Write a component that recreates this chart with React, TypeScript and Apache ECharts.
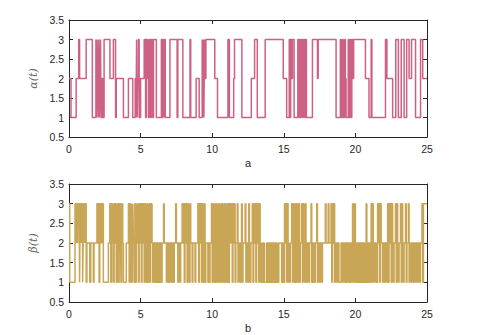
import React, { useEffect, useRef } from "react";
import * as echarts from "echarts";

// Switching signal alpha(t): [time, mode] pairs (mode holds until next time)
const alpha0to5: [number, number][] = [
  [0, 2], [0.14, 1], [0.5, 2], [0.68, 3], [0.74, 2], [1.2, 3], [1.63, 1], [1.88, 3], [1.92, 1], [1.96, 3],
  [2.0, 2], [2.04, 1], [2.08, 3], [2.12, 1], [2.16, 2], [2.2, 3], [2.24, 1], [2.3, 2], [2.36, 1], [2.45, 3],
  [2.86, 2], [3.1, 3], [3.25, 1], [3.3, 2], [3.8, 1], [4.15, 2], [4.45, 1], [4.62, 2], [4.68, 1], [4.72, 3],
  [4.76, 1], [4.8, 2], [4.85, 3], [4.9, 1],
];
const alpha5to10: [number, number][] = [
  [5.0, 2], [5.25, 3], [5.35, 1], [5.4, 3], [5.5, 2], [5.55, 1], [5.6, 3], [5.7, 1], [5.75, 3], [5.85, 1],
  [5.9, 3], [6.1, 1], [6.45, 3], [6.5, 1], [6.55, 3], [6.62, 1], [6.66, 3], [6.72, 1], [7.05, 3], [7.55, 1],
  [7.6, 3], [7.95, 1], [8.45, 3], [8.5, 1], [8.88, 2], [9.09, 1], [9.3, 3], [9.34, 1], [9.38, 3], [9.42, 1],
  [9.46, 3], [9.5, 2], [9.56, 3],
];
const alpha10to15: [number, number][] = [
  [10.18, 2], [10.37, 1], [11.1, 3], [11.2, 1], [11.5, 2], [11.56, 3], [12.07, 1], [12.73, 2], [12.96, 3],
  [13.15, 1], [13.7, 3], [14.96, 2],
];
const alpha15to20: [number, number][] = [
  [15.2, 1], [15.38, 3], [15.43, 1], [15.48, 3], [15.55, 2], [15.6, 3], [15.72, 1], [15.98, 3], [16.05, 1],
  [16.1, 3], [16.15, 1], [16.2, 3], [16.3, 1], [16.35, 3], [16.45, 1], [16.5, 3], [16.58, 1], [17.0, 3],
  [17.35, 2], [17.4, 3], [18.65, 1], [18.95, 3], [19.02, 1], [19.1, 3], [19.15, 1], [19.25, 3], [19.3, 2],
  [19.35, 1], [19.5, 3], [19.55, 1], [19.62, 3], [19.68, 1], [19.75, 3], [19.82, 2], [19.88, 3],
];
const alpha20to25: [number, number][] = [
  [20.7, 2], [20.95, 1], [21.1, 3], [21.15, 1], [22.1, 3], [22.2, 2], [22.6, 1], [22.82, 3], [23.0, 1],
  [23.2, 3], [23.4, 1], [23.58, 3], [23.75, 2], [23.92, 3], [24.2, 1], [24.55, 3], [24.7, 2], [25, 2],
];

// Switching signal beta(t)
const beta0to5: [number, number][] = [
  [0, 3], [0.05, 1], [0.42, 3], [0.5, 2], [0.53, 3], [0.6, 2], [0.63, 3], [0.72, 2], [0.74, 1], [0.78, 3],
  [0.85, 2], [0.88, 3], [0.95, 1], [0.99, 2], [1.03, 3], [1.1, 2], [1.13, 3], [1.2, 1], [1.25, 2], [1.45, 1],
  [1.52, 2], [1.7, 1], [1.75, 2], [1.95, 3], [2.0, 2], [2.05, 3], [2.1, 1], [2.15, 3], [2.25, 2], [2.3, 3],
  [2.4, 1], [2.75, 2], [2.85, 3], [2.92, 1], [2.98, 3], [3.05, 2], [3.1, 1], [3.15, 3], [3.2, 2], [3.25, 3],
  [3.3, 1], [3.35, 2], [3.4, 3], [3.45, 1], [3.5, 3], [3.6, 2], [3.63, 1], [3.68, 3], [3.75, 2], [3.8, 1],
  [4.0, 2], [4.15, 3], [4.2, 1], [4.25, 3], [4.3, 2], [4.33, 1], [4.38, 3], [4.42, 1], [4.46, 3], [4.5, 2],
  [4.55, 1], [4.6, 3], [4.65, 1], [4.7, 2], [4.75, 3], [4.8, 2], [4.85, 1], [4.9, 3], [4.95, 2],
];
const beta5to10: [number, number][] = [
  [5.0, 3], [5.05, 1], [5.1, 3], [5.15, 2], [5.2, 3], [5.25, 1], [5.3, 3], [5.35, 2], [5.4, 1], [5.45, 3],
  [5.5, 1], [5.55, 2], [5.6, 3], [5.65, 1], [5.7, 3], [5.8, 2], [5.85, 1], [5.9, 2], [5.95, 1], [6.0, 2],
  [6.05, 1], [6.1, 2], [6.15, 1], [6.2, 2], [6.25, 1], [6.3, 2], [6.35, 1], [6.4, 2], [6.45, 1], [6.5, 2],
  [6.6, 3], [6.65, 2], [6.8, 1], [6.85, 2], [6.95, 1], [7.0, 2], [7.05, 1], [7.1, 2], [7.2, 1], [7.25, 2],
  [7.3, 1], [7.35, 2], [7.45, 3], [7.5, 2], [7.6, 1], [7.65, 2], [7.75, 1], [7.8, 2], [7.9, 3], [7.95, 2],
  [8.0, 3], [8.05, 1], [8.1, 3], [8.15, 2], [8.2, 3], [8.25, 1], [8.3, 3], [8.35, 2], [8.4, 1], [8.45, 3],
  [8.5, 2], [8.6, 1], [8.65, 2], [8.8, 1], [8.85, 2], [9.0, 3], [9.05, 1], [9.1, 3], [9.15, 2], [9.2, 3],
  [9.25, 1], [9.3, 3], [9.35, 2], [9.4, 1], [9.45, 3], [9.5, 1], [9.55, 2], [9.7, 1], [9.75, 2], [9.8, 1],
  [9.85, 2], [9.95, 3],
];
const beta10to15: [number, number][] = [
  [10.0, 1], [10.05, 3], [10.1, 2], [10.15, 1], [10.2, 3], [10.25, 1], [10.3, 3], [10.35, 2], [10.4, 1],
  [10.45, 3], [10.5, 1], [10.55, 2], [10.6, 3], [10.65, 1], [10.7, 3], [10.75, 2], [10.8, 1], [10.85, 3],
  [10.9, 1], [10.95, 3], [11.0, 2], [11.05, 1], [11.1, 3], [11.15, 1], [11.2, 3], [11.3, 2], [11.35, 3],
  [11.4, 1], [11.45, 3], [11.5, 2], [11.55, 3], [11.6, 1], [11.65, 2], [11.75, 3], [11.8, 1], [11.85, 2],
  [11.95, 1], [12.0, 2], [12.05, 3], [12.1, 1], [12.15, 2], [12.3, 3], [12.35, 1], [12.4, 2], [12.5, 1],
  [12.55, 3], [12.6, 2], [12.65, 1], [12.7, 2], [12.8, 3], [12.85, 1], [12.9, 3], [12.95, 2], [13.0, 3],
  [13.05, 1], [13.1, 3], [13.15, 2], [13.2, 3], [13.25, 1], [13.3, 3], [13.35, 2], [13.4, 1], [13.5, 2],
  [13.55, 1], [13.6, 2], [13.65, 1], [13.8, 2], [13.85, 1], [13.9, 2], [13.95, 1], [14.0, 2], [14.05, 1],
  [14.1, 2], [14.15, 1], [14.2, 2], [14.25, 1], [14.3, 2], [14.35, 1], [14.4, 2], [14.45, 1], [14.5, 2],
  [14.55, 1], [14.65, 2], [14.85, 1], [14.9, 2], [14.95, 1],
];
const beta15to20: [number, number][] = [
  [15.05, 3], [15.1, 2], [15.15, 3], [15.2, 1], [15.25, 3], [15.3, 2], [15.35, 1], [15.45, 2], [15.55, 3],
  [15.6, 1], [15.65, 3], [15.7, 2], [15.75, 1], [15.8, 3], [15.85, 1], [15.9, 3], [15.95, 2], [16.0, 1],
  [16.05, 3], [16.1, 1], [16.15, 2], [16.25, 3], [16.3, 1], [16.35, 3], [16.4, 2], [16.45, 1], [16.5, 3],
  [16.55, 2], [16.6, 1], [16.65, 2], [16.75, 1], [16.8, 2], [16.9, 3], [16.95, 1], [17.0, 2], [17.05, 1],
  [17.1, 2], [17.15, 1], [17.2, 2], [17.3, 3], [17.35, 1], [17.4, 2], [17.5, 1], [17.55, 2], [17.65, 1],
  [17.7, 2], [17.9, 3], [17.95, 2], [18.1, 3], [18.15, 2], [18.3, 3], [18.35, 1], [18.4, 3], [18.45, 2],
  [18.5, 3], [18.55, 1], [18.6, 2], [18.7, 1], [18.75, 2], [18.85, 1], [19.0, 2], [19.1, 1], [19.15, 2],
  [19.25, 1], [19.3, 2], [19.35, 1], [19.4, 2], [19.5, 1], [19.55, 2], [19.6, 1], [19.65, 2], [19.75, 1],
  [19.8, 3], [19.85, 2], [19.9, 1], [19.95, 3],
];
const beta20to25: [number, number][] = [
  [20.0, 2], [20.05, 1], [20.1, 2], [20.15, 1], [20.2, 2], [20.25, 1], [20.3, 2], [20.35, 1], [20.4, 2],
  [20.45, 1], [20.5, 2], [20.55, 1], [20.6, 2], [20.65, 1], [20.75, 3], [20.8, 1], [20.85, 2], [20.9, 1],
  [20.95, 2], [21.0, 1], [21.05, 2], [21.1, 3], [21.15, 1], [21.2, 3], [21.25, 2], [21.3, 1], [21.35, 2],
  [21.45, 1], [21.55, 3], [21.6, 2], [21.65, 3], [21.7, 1], [21.75, 3], [21.8, 2], [21.9, 1], [21.95, 2],
  [22.05, 1], [22.1, 2], [22.2, 1], [22.25, 3], [22.3, 1], [22.35, 3], [22.4, 2], [22.45, 3], [22.5, 1],
  [22.55, 3], [22.6, 2], [22.65, 1], [22.7, 2], [22.8, 3], [22.85, 1], [22.9, 3], [22.95, 2], [23.0, 1],
  [23.05, 2], [23.15, 3], [23.2, 1], [23.25, 3], [23.3, 2], [23.35, 1], [23.4, 2], [23.5, 3], [23.55, 1],
  [23.6, 2], [23.7, 3], [23.75, 1], [23.8, 2], [23.9, 1], [23.95, 2], [24.05, 1], [24.1, 2], [24.2, 1],
  [24.25, 2], [24.35, 1], [24.4, 2], [24.5, 1], [24.55, 2], [24.65, 3], [24.7, 1], [24.75, 3], [25.0, 3],
];

const xTicks = { min: 0, max: 25, interval: 5 };
const yTicks = { min: 0.5, max: 3.5, interval: 0.5 };
const panelNames = ["a", "b"];
const yNames = ["α(t)", "β(t)"];

const alphaData = [...alpha0to5, ...alpha5to10, ...alpha10to15, ...alpha15to20, ...alpha20to25];
const betaData = [...beta0to5, ...beta5to10, ...beta10to15, ...beta15to20, ...beta20to25];

const AXIS_COLOR = "#262626";
const LABEL_FONT = { fontFamily: "Liberation Sans, Arial, sans-serif", fontSize: 10.5, color: "#262626" };

export default function App() {
  const ref = useRef<HTMLDivElement>(null);
  useEffect(() => {
    document.body.style.margin = "0";
    if (!ref.current) return;
    const chart = echarts.init(ref.current, null, { renderer: "svg" });
    const grids = [
      { left: 69, top: 20, width: 358, height: 117 },
      { left: 69, top: 184, width: 358, height: 118 },
    ];
    const xAxis: any[] = [];
    const yAxis: any[] = [];
    grids.forEach((_, i) => {
      xAxis.push({
        type: "value",
        gridIndex: i,
        position: "bottom",
        ...xTicks,
        name: panelNames[i],
        nameLocation: "middle",
        nameGap: 20,
        nameTextStyle: { ...LABEL_FONT, fontSize: 11 },
        axisLine: { show: true, onZero: false, lineStyle: { color: AXIS_COLOR, width: 1 } },
        axisTick: { show: true, inside: true, length: 4, lineStyle: { color: AXIS_COLOR } },
        axisLabel: { ...LABEL_FONT, margin: 6 },
        splitLine: { show: false },
      });
      xAxis.push({
        type: "value",
        gridIndex: i,
        position: "top",
        ...xTicks,
        axisLine: { show: true, onZero: false, lineStyle: { color: AXIS_COLOR, width: 1 } },
        axisTick: { show: true, inside: true, length: 4, lineStyle: { color: AXIS_COLOR } },
        axisLabel: { show: false },
        splitLine: { show: false },
      });
      yAxis.push({
        type: "value",
        gridIndex: i,
        position: "left",
        ...yTicks,
        name: yNames[i],
        nameLocation: "middle",
        nameGap: 20,
        nameTextStyle: { fontFamily: "DejaVu Serif, serif", fontStyle: "italic", fontSize: 11, color: "#666" },
        axisLine: { show: true, onZero: false, lineStyle: { color: AXIS_COLOR, width: 1 } },
        axisTick: { show: true, inside: true, length: 4, lineStyle: { color: AXIS_COLOR } },
        axisLabel: { ...LABEL_FONT, margin: 5 },
        splitLine: { show: false },
      });
      yAxis.push({
        type: "value",
        gridIndex: i,
        position: "right",
        ...yTicks,
        axisLine: { show: true, onZero: false, lineStyle: { color: AXIS_COLOR, width: 1 } },
        axisTick: { show: true, inside: true, length: 4, lineStyle: { color: AXIS_COLOR } },
        axisLabel: { show: false },
        splitLine: { show: false },
      });
    });
    chart.setOption({
      animation: false,
      backgroundColor: "#fff",
      grid: grids,
      xAxis,
      yAxis,
      series: [
        {
          type: "line",
          step: "end",
          xAxisIndex: 0,
          yAxisIndex: 0,
          data: alphaData,
          showSymbol: false,
          lineStyle: { color: "#cd6183", width: 1.5 },
        },
        {
          type: "line",
          step: "end",
          xAxisIndex: 2,
          yAxisIndex: 2,
          data: betaData,
          showSymbol: false,
          lineStyle: { color: "#c9a656", width: 1.5 },
        },
      ],
    });
    return () => chart.dispose();
  }, []);
  return <div ref={ref} style={{ width: 500, height: 335 }} />;
}
